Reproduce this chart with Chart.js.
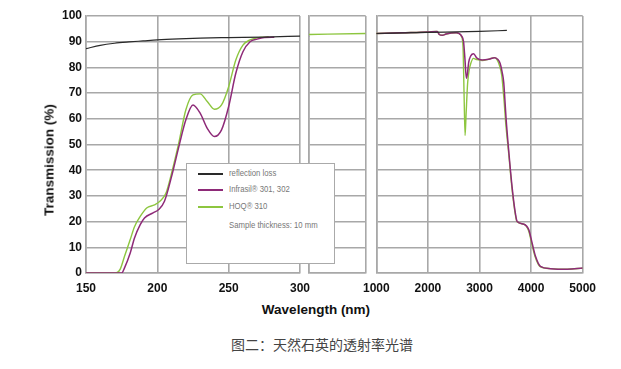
<!DOCTYPE html>
<html lang="zh">
<head>
  <meta charset="UTF-8">
  <title>天然石英的透射率光谱</title>
  <script src="https://cdn.jsdelivr.net/npm/chart.js"></script>
  <style>
    body {
      margin: 0;
      background: #fff;
      width: 621px;
      height: 369px;
      position: relative;
      overflow: hidden;
      font-family: 'Liberation Sans', Arial, sans-serif;
    }
    canvas { position: absolute; top: 0; }
    #ytitle {
      position: absolute;
      left: 49px;
      top: 160px;
      transform: translate(-50%, -50%) rotate(-90deg);
      font-weight: bold;
      font-size: 13.5px;
      color: #111;
      white-space: nowrap;
    }
    #xtitle {
      position: absolute;
      left: 316px;
      top: 309px;
      transform: translate(-50%, -50%);
      font-weight: bold;
      font-size: 13.5px;
      color: #111;
      white-space: nowrap;
    }
    #legend {
      position: absolute;
      left: 186px;
      top: 163px;
      width: 147px;
      height: 99px;
      background: #fff;
      border: 1px solid #aaa;
      z-index: 5;
      font-size: 9px;
      color: #777;
    }
    .row {
      position: absolute;
      left: 11px;
      height: 12px;
      line-height: 12px;
      white-space: nowrap;
    }
    .row span.swatch {
      display: inline-block;
      width: 25px;
      height: 2px;
      vertical-align: middle;
      margin-right: 6px;
    }
    .row span.txt {
      display: inline-block;
      transform: scaleX(0.86);
      transform-origin: left center;
    }
    #caption {
      position: absolute;
      left: 322px;
      top: 344px;
      transform: translate(-50%, -50%);
      font-family: 'Noto Sans CJK SC', sans-serif;
      font-size: 14px;
      color: #444;
      white-space: nowrap;
    }
  </style>
</head>
<body>
  <canvas id="panelA" width="320" height="300" style="left:0px"></canvas>
  <canvas id="panelB" width="80" height="300" style="left:300px"></canvas>
  <canvas id="panelC" width="250" height="300" style="left:355px"></canvas>
  <div id="ytitle">Transmission (%)</div>
  <div id="xtitle">Wavelength (nm)</div>
  <div id="legend"></div>
  <div id="caption">图二：天然石英的透射率光谱</div>

  <script>
    // wavelength (nm) / transmission (%); null = gap in the curve
    const reflWl = [150, 160, 170, 180, 190, 200, 215, 230, 250, 275, 300, 650, 1000, 2000, 3000, 3530];
    const reflT  = [87.3, 88.6, 89.4, 89.9, 90.3, 90.7, 91.1, 91.4, 91.6, 91.8, 92.2, null, 93.2, 93.6, 94.0, 94.4];

    const infrasilWl = [150, 175, 177, 181, 184, 188, 191, 197, 201, 205, 210, 215, 220, 225, 230, 235, 240, 245, 250, 255, 260, 265, 270, 275, 282,
      650, 1000, 1500, 2000, 2180, 2220, 2280, 2350, 2450, 2550, 2600, 2650, 2690, 2715, 2745, 2765, 2790, 2830, 2885, 2950, 3050, 3180, 3290,
      3350, 3400, 3440, 3470, 3490, 3515, 3570, 3630, 3685, 3730, 3860, 3955, 4020, 4085, 4180, 4375, 4700, 5000];
    const infrasilT = [0, 0, 2, 7.8, 13.6, 18.8, 21.4, 23.4, 24.7, 27.9, 37.6, 49, 59.6, 65.4, 62.2, 56.3, 53.1, 55.7, 64.8, 77.7, 86.1, 90, 91, 91.6, 91.7,
      null, 93.2, 93.5, 93.8, 94, 92.8, 92.5, 93, 93.4, 93.5, 93.2, 92.3, 90, 84, 75.8, 77.5, 82, 84.5, 85.3, 83.6, 82.9, 83.2, 83.8,
      83.2, 81.5, 78, 74, 68, 60, 46.6, 33.7, 24.6, 20, 19, 16.8, 11.6, 6.5, 2.6, 1.7, 1.5, 1.9];

    const hoqWl = [150, 171, 174, 177, 181, 184, 188, 192.5, 198, 202, 206, 210, 215, 220, 225, 230, 235, 240, 245, 250, 255, 260, 265, 270, 278,
      290, 300, 1000, 1500, 2000, 2180, 2220, 2280, 2350, 2450, 2550, 2600, 2650, 2680, 2700, 2720, 2740, 2770, 2800, 2830, 2880, 2950, 3050,
      3180, 3290, 3340, 3390, 3430, 3455, 3480, 3505, 3565, 3625, 3680, 3725, 3860, 3950, 4010, 4075, 4170, 4375, 4700, 5000];
    const hoqT = [0, 0, 1.5, 6.5, 13, 18, 22, 25.3, 26.5, 28, 31, 38.9, 50.5, 63.5, 69.3, 69.7, 66.7, 63.7, 65.4, 72.5, 82.9, 88.7, 90.7, 91.5, 91.9,
      null, 92.8, 93.2, 93.5, 93.8, 94, 92.8, 92.5, 93, 93.4, 93.5, 93.2, 92, 88, 70, 53.5, 62, 74, 79, 81.5, 83.5, 83, 82.7,
      83.2, 83.8, 83, 80.5, 77, 72, 66, 59, 46.6, 33.7, 24.6, 20, 19, 16.5, 11.6, 6.5, 2.6, 1.7, 1.5, 1.9];

    const yTicks = [0, 10, 20, 30, 40, 50, 60, 70, 80, 90, 100];

    const series = [
      { label: 'reflection loss', wl: reflWl, t: reflT, color: '#2a2a2a', width: 1.2 },
      { label: 'Infrasil® 301, 302', wl: infrasilWl, t: infrasilT, color: '#8e2a78', width: 1.5 },
      { label: 'HOQ® 310', wl: hoqWl, t: hoqT, color: '#8dc63f', width: 1.4 }
    ];
    const note = 'Sample thickness: 10 mm';

    const gridGrey = '#a8a8a8';
    const tickFont = { family: "'Liberation Sans', Arial, sans-serif", size: 12, weight: 'bold' };

    function makeDatasets() {
      return series.map(s => ({
        label: s.label,
        data: s.wl.map((x, i) => ({ x: x, y: s.t[i] })),
        borderColor: s.color,
        borderWidth: s.width,
        pointRadius: 0,
        fill: false,
        spanGaps: false,
        cubicInterpolationMode: 'monotone'
      }));
    }

    function makePanel(id, xMin, xMax, opts) {
      new Chart(document.getElementById(id), {
        type: 'line',
        data: { datasets: makeDatasets() },
        options: {
          responsive: false,
          animation: false,
          devicePixelRatio: 1,
          layout: { padding: opts.padding },
          plugins: { legend: { display: false }, tooltip: { enabled: false } },
          scales: {
            x: {
              type: 'linear',
              min: xMin,
              max: xMax,
              afterBuildTicks: s => { s.ticks = opts.xTicks.map(v => ({ value: v })); },
              afterFit: s => { s.height = 27; },
              grid: { color: gridGrey, lineWidth: 1.6, drawTicks: false },
              border: { color: gridGrey, width: 1.6 },
              ticks: {
                display: opts.showX,
                padding: 8,
                maxRotation: 0,
                autoSkip: false,
                color: '#111',
                font: tickFont,
                callback: v => String(v)
              }
            },
            y: {
              min: 0,
              max: 100,
              afterBuildTicks: s => { s.ticks = yTicks.map(v => ({ value: v })); },
              afterFit: s => { s.width = opts.yWidth; },
              grid: { color: gridGrey, lineWidth: 1.6, drawTicks: false },
              border: { color: gridGrey, width: 1.6 },
              ticks: {
                display: opts.showY,
                padding: 4,
                color: '#111',
                font: tickFont
              }
            }
          }
        }
      });
    }

    // three broken-axis panels: 150-300, 300-1000, 1000-5000 nm
    makePanel('panelA', 150, 300, {
      padding: { top: 16, left: 0, right: 20, bottom: 0 },
      xTicks: [150, 200, 250, 300], showX: true, showY: true, yWidth: 86
    });
    makePanel('panelB', 300, 1000, {
      padding: { top: 16, left: 9, right: 14.3, bottom: 0 },
      xTicks: [300, 1000], showX: false, showY: false, yWidth: 0
    });
    makePanel('panelC', 1000, 5000, {
      padding: { top: 16, left: 18.3, right: 22.3, bottom: 0 },
      xTicks: [1000, 2000, 3000, 4000, 5000], showX: true, showY: false, yWidth: 0
    });

    // legend box
    const legend = document.getElementById('legend');
    function addRow(top, left, color, text) {
      const row = document.createElement('div');
      row.className = 'row';
      row.style.top = top + 'px';
      row.style.left = left + 'px';
      if (color) {
        const sw = document.createElement('span');
        sw.className = 'swatch';
        sw.style.background = color;
        row.appendChild(sw);
      }
      const tx = document.createElement('span');
      tx.className = 'txt';
      tx.textContent = text;
      row.appendChild(tx);
      legend.appendChild(row);
    }
    const rowTops = [3, 19, 36];
    series.forEach((s, i) => addRow(rowTops[i], 11, s.color, s.label));
    addRow(55, 42, null, note);
  </script>
</body>
</html>
